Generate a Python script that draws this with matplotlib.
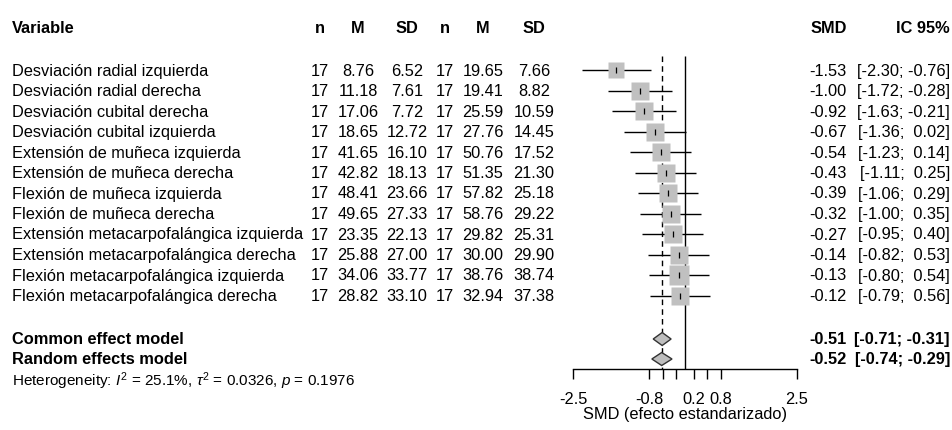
import matplotlib
matplotlib.use('Agg')
import matplotlib.pyplot as plt

plt.rcParams['font.family'] = ['Liberation Sans', 'DejaVu Sans']
plt.rcParams['mathtext.fontset'] = 'custom'
plt.rcParams['mathtext.rm'] = 'Liberation Sans'
plt.rcParams['mathtext.it'] = 'Liberation Sans:italic'
plt.rcParams['mathtext.bf'] = 'Liberation Sans:bold'

# data
variables = ['Desviación radial izquierda', 'Desviación radial derecha',
             'Desviación cubital derecha', 'Desviación cubital izquierda',
             'Extensión de muñeca izquierda', 'Extensión de muñeca derecha',
             'Flexión de muñeca izquierda', 'Flexión de muñeca derecha',
             'Extensión metacarpofalángica izquierda', 'Extensión metacarpofalángica derecha',
             'Flexión metacarpofalángica izquierda', 'Flexión metacarpofalángica derecha']
n_e = [17, 17, 17, 17, 17, 17, 17, 17, 17, 17, 17, 17]
m_e = [8.76, 11.18, 17.06, 18.65, 41.65, 42.82, 48.41, 49.65, 23.35, 25.88, 34.06, 28.82]
sd_e = [6.52, 7.61, 7.72, 12.72, 16.10, 18.13, 23.66, 27.33, 22.13, 27.00, 33.77, 33.10]
n_c = [17, 17, 17, 17, 17, 17, 17, 17, 17, 17, 17, 17]
m_c = [19.65, 19.41, 25.59, 27.76, 50.76, 51.35, 57.82, 58.76, 29.82, 30.00, 38.76, 32.94]
sd_c = [7.66, 8.82, 10.59, 14.45, 17.52, 21.30, 25.18, 29.22, 25.31, 29.90, 38.74, 37.38]
smd = [-1.53, -1.00, -0.92, -0.67, -0.54, -0.43, -0.39, -0.32, -0.27, -0.14, -0.13, -0.12]
ci_lo = [-2.30, -1.72, -1.63, -1.36, -1.23, -1.11, -1.06, -1.00, -0.95, -0.82, -0.80, -0.79]
ci_hi = [-0.76, -0.28, -0.21, 0.02, 0.14, 0.25, 0.29, 0.35, 0.40, 0.53, 0.54, 0.56]

model_names = ['Common effect model', 'Random effects model']
model_est = [-0.51, -0.52]
model_lo = [-0.71, -0.74]
model_hi = [-0.31, -0.29]

ticks = [-2.5, -0.8, -0.5, -0.2, 0.2, 0.5, 0.8, 2.5]
tick_labels = ['-2.5', '-0.8', '', '', '0.2', '', '0.8', '2.5']

W, H = 952, 431
row0, step = 71, 20.5
def r(ypix):
    return (ypix - row0) / step

fs = 11.8
fig = plt.figure(figsize=(W / 100, H / 100), dpi=100)
ax_t = fig.add_axes([0, 0, 1, 1])
ax_t.set_xlim(0, W)
ax_t.set_ylim(r(H), r(0))
ax_t.axis('off')

ax = fig.add_axes([573 / W, 0, 224 / W, 1])
ax.set_xlim(-2.5, 2.5)
ax.set_ylim(r(H), r(0))
ax.patch.set_visible(False)
for s in ['top', 'left', 'right']:
    ax.spines[s].set_visible(False)
ax.spines['bottom'].set_position(('data', r(370)))
ax.spines['bottom'].set_bounds(-2.5, 2.5)
ax.spines['bottom'].set_linewidth(1)
ax.set_yticks([])
ax.set_xticks(ticks)
ax.set_xticklabels(tick_labels)
ax.tick_params(axis='x', direction='out', length=7.2, width=1, labelsize=fs, pad=8.5)
ax.set_xlabel('SMD (efecto estandarizado)', fontsize=fs, labelpad=0)

rows = list(range(len(variables)))

# reference lines
ax.vlines(0, r(57), r(370), color='black', lw=1, zorder=1)
ax.vlines(model_est[0], r(57), r(370), color='black', lw=1, linestyles=(0, (4, 3)), zorder=1)

# study CIs and squares
ax.hlines(rows, ci_lo, ci_hi, color='black', lw=1, zorder=2)
for i in rows:
    side = 16.5 * 1.35 / (ci_hi[i] - ci_lo[i])
    ax.plot(smd[i], i, marker='s', ms=side * 0.72 * 1.15, color='#c0c0c0', mec='none', zorder=3)
ax.plot(smd, rows, ls='none', marker='|', ms=5, mew=0.9, color='black', zorder=4)

# summary diamonds
model_rows = [r(340), r(360)]
h = 6.5 / step
for k in range(2):
    yr = model_rows[k]
    ax.fill([model_lo[k], model_est[k], model_hi[k], model_est[k]],
            [yr, yr - h, yr, yr + h], facecolor='#bebebe', edgecolor='#333333', lw=1, zorder=5)

# text columns
cols = [320, 358, 407, 445, 483, 534]
heads = ['n', 'M', 'SD', 'n', 'M', 'SD']
yh = r(28)
ax_t.text(12, yh, 'Variable', ha='left', va='center', fontsize=fs, fontweight='bold')
for x, t in zip(cols, heads):
    ax_t.text(x, yh, t, ha='center', va='center', fontsize=fs, fontweight='bold')
ax_t.text(847, yh, 'SMD', ha='right', va='center', fontsize=fs, fontweight='bold')
ax_t.text(950, yh, 'IC 95%', ha='right', va='center', fontsize=fs, fontweight='bold')

for i in rows:
    ax_t.text(12, i, variables[i], ha='left', va='center', fontsize=fs)
    vals = [str(n_e[i]), f'{m_e[i]:.2f}', f'{sd_e[i]:.2f}',
            str(n_c[i]), f'{m_c[i]:.2f}', f'{sd_c[i]:.2f}']
    for x, t in zip(cols, vals):
        ax_t.text(x, i, t, ha='center', va='center', fontsize=fs)
    ax_t.text(847, i, f'{smd[i]:.2f}', ha='right', va='center', fontsize=fs)
    ax_t.text(950, i, f'[{ci_lo[i]:5.2f}; {ci_hi[i]:5.2f}]', ha='right', va='center', fontsize=fs)

for k in range(2):
    yr = model_rows[k]
    ax_t.text(12, yr, model_names[k], ha='left', va='center', fontsize=fs, fontweight='bold')
    ax_t.text(847, yr, f'{model_est[k]:.2f}', ha='right', va='center', fontsize=fs, fontweight='bold')
    ax_t.text(950, yr, f'[{model_lo[k]:5.2f}; {model_hi[k]:5.2f}]', ha='right', va='center',
              fontsize=fs, fontweight='bold')

ax_t.text(12, r(381), r'Heterogeneity: $I^2$ = 25.1%, $\tau^2$ = 0.0326, $p$ = 0.1976',
          ha='left', va='center', fontsize=11)

fig.savefig('out.png', dpi=100)
